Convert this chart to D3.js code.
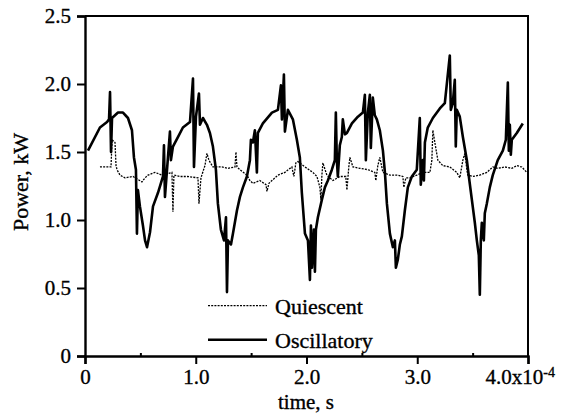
<!DOCTYPE html>
<html>
<head>
<meta charset="utf-8">
<script src="https://cdn.jsdelivr.net/npm/d3@7"></script>
<style>
  body { margin: 0; background: #fff; }
  text { font-family: "Liberation Serif", "DejaVu Serif", serif; fill: #000; stroke: #000; stroke-width: 0.35px; }
</style>
</head>
<body>
<svg id="chart" width="566" height="415"></svg>
<script>
// time in units of 1e-4 s, power in kW
let oscT = [0.027,0.135,0.199,0.217,0.226,0.235,0.244,0.298,0.343,0.388,0.424,0.442,0.460,0.469,0.478,0.496,0.523,0.542,0.560,0.587,0.614,0.659,0.704,0.713,0.722,0.749,0.767,0.776,0.794,0.839,0.884,0.948,0.975,0.984,1.002,1.029,1.038,1.065,1.101,1.128,1.155,1.182,1.200,1.227,1.255,1.273,1.282,1.291,1.318,1.336,1.372,1.399,1.426,1.462,1.489,1.498,1.516,1.534,1.552,1.561,1.606,1.688,1.742,1.769,1.778,1.796,1.805,1.832,1.877,1.913,1.940,1.958,1.986,2.013,2.031,2.040,2.049,2.067,2.076,2.085,2.103,2.139,2.166,2.193,2.229,2.256,2.265,2.274,2.283,2.301,2.319,2.328,2.347,2.365,2.410,2.464,2.509,2.527,2.536,2.554,2.572,2.581,2.599,2.617,2.635,2.662,2.690,2.708,2.726,2.753,2.780,2.798,2.807,2.825,2.843,2.861,2.888,2.915,2.951,2.996,3.023,3.032,3.051,3.060,3.069,3.095,3.141,3.204,3.249,3.294,3.303,3.321,3.339,3.348,3.357,3.384,3.412,3.448,3.466,3.493,3.520,3.538,3.556,3.565,3.574,3.583,3.601,3.610,3.628,3.655,3.682,3.727,3.773,3.800,3.818,3.827,3.836,3.845,3.854,3.899,3.953];
let oscP = [1.51,1.68,1.72,1.74,1.94,1.50,1.75,1.79,1.79,1.75,1.66,1.46,1.37,0.90,1.22,1.10,0.96,0.85,0.80,0.91,1.10,1.20,1.32,1.55,1.17,1.46,1.65,1.44,1.54,1.61,1.68,1.72,2.04,1.39,1.76,1.93,1.70,1.75,1.70,1.64,1.54,1.37,1.12,0.93,0.85,1.02,0.47,0.85,0.82,0.90,1.07,1.17,1.24,1.32,1.44,1.59,1.57,1.66,1.35,1.64,1.71,1.79,1.81,1.99,1.74,2.07,1.65,1.81,1.74,1.59,1.46,1.20,0.90,0.85,0.56,0.96,0.65,0.93,0.62,0.93,1.02,1.15,1.24,1.29,1.37,1.44,1.79,1.44,1.32,1.55,1.61,1.74,1.63,1.64,1.71,1.76,1.79,1.92,1.44,1.79,1.92,1.53,1.90,1.77,1.74,1.66,1.51,1.35,1.12,0.90,0.80,0.85,0.65,0.71,0.82,0.88,1.07,1.24,1.32,1.37,1.75,1.26,1.44,1.29,1.57,1.68,1.75,1.82,1.86,2.21,1.81,1.86,2.03,1.54,1.81,1.76,1.61,1.44,1.32,1.15,0.98,0.85,0.74,0.45,0.85,0.98,0.85,1.05,1.12,1.24,1.33,1.44,1.51,1.59,2.01,1.51,1.70,1.48,1.59,1.64,1.71];

let quiT = [0.135,0.235,0.244,0.271,0.280,0.289,0.316,0.361,0.433,0.514,0.542,0.569,0.632,0.695,0.785,0.794,0.803,0.857,0.921,1.020,1.029,1.047,1.083,1.101,1.119,1.155,1.236,1.291,1.354,1.363,1.372,1.399,1.462,1.489,1.516,1.579,1.634,1.643,1.661,1.688,1.742,1.805,1.868,1.886,1.904,1.922,1.986,2.058,2.094,2.121,2.130,2.139,2.148,2.184,2.238,2.301,2.355,2.365,2.383,2.392,2.419,2.482,2.554,2.617,2.626,2.644,2.662,2.690,2.753,2.825,2.870,2.879,2.897,2.933,2.996,3.051,3.114,3.132,3.141,3.159,3.186,3.231,3.294,3.357,3.384,3.412,3.430,3.448,3.457,3.502,3.565,3.628,3.682,3.727,3.791,3.854,3.899,3.944,3.989];
let quiP = [1.39,1.39,1.59,1.57,1.40,1.37,1.33,1.31,1.32,1.28,1.31,1.33,1.35,1.33,1.35,1.06,1.33,1.32,1.32,1.31,1.12,1.31,1.40,1.49,1.44,1.39,1.39,1.38,1.39,1.50,1.39,1.37,1.33,1.29,1.27,1.29,1.26,1.21,1.27,1.29,1.33,1.35,1.39,1.32,1.42,1.43,1.39,1.35,1.32,1.24,1.15,1.33,1.42,1.33,1.29,1.32,1.32,1.22,1.40,1.46,1.39,1.38,1.37,1.35,1.29,1.40,1.46,1.35,1.33,1.33,1.32,1.24,1.31,1.31,1.33,1.35,1.35,1.44,1.66,1.57,1.44,1.40,1.39,1.35,1.31,1.44,1.49,1.37,1.33,1.32,1.33,1.35,1.39,1.38,1.39,1.38,1.40,1.39,1.35];

let xTicks = [0, 1, 2, 3, 4];
let xMinorTicks = [0.5, 1.5, 2.5, 3.5];
let xTickLabels = ["0", "1.0", "2.0", "3.0", "4.0x10"];
let yTicks = [0, 0.5, 1.0, 1.5, 2.0, 2.5];
let yTickLabels = ["0", "0.5", "1.0", "1.5", "2.0", "2.5"];
let seriesNames = ["Quiescent", "Oscillatory"];

let svg = d3.select("#chart");

let x = d3.scaleLinear().domain([0, 4]).range([85, 528]);
let y = d3.scaleLinear().domain([0, 2.5]).range([356, 16]);

// frame (top and right)
svg.append("path")
  .attr("d", `M${x(0)},${y(2.5)}H${x(4)}V${y(0)}`)
  .attr("fill", "none")
  .attr("stroke", "#000")
  .attr("stroke-width", 2);

let quiData = quiT.map((t, i) => [t, quiP[i]]);
let oscData = oscT.map((t, i) => [t, oscP[i]]);
let line = d3.line().x(d => x(d[0])).y(d => y(d[1]));

// quiescent (dotted)
svg.append("path")
  .datum(quiData)
  .attr("d", line)
  .attr("fill", "none")
  .attr("stroke", "#000")
  .attr("stroke-width", 1.3)
  .attr("stroke-dasharray", "2,1.2");

// oscillatory (solid)
svg.append("path")
  .datum(oscData)
  .attr("d", line)
  .attr("fill", "none")
  .attr("stroke", "#000")
  .attr("stroke-width", 2.6)
  .attr("stroke-linejoin", "round");

// axes
let xAxis = svg.append("g")
  .attr("transform", `translate(0,${y(0)})`)
  .call(d3.axisBottom(x).tickValues(xTicks)
    .tickFormat((d, i) => xTickLabels[i]).tickSize(8).tickPadding(5));

svg.append("g")
  .attr("transform", `translate(0,${y(0)})`)
  .call(d3.axisBottom(x).tickValues(xMinorTicks).tickFormat("").tickSize(-3))
  .select(".domain").remove();

let yAxis = svg.append("g")
  .attr("transform", `translate(${x(0)},0)`)
  .call(d3.axisLeft(y).tickValues(yTicks)
    .tickFormat((d, i) => yTickLabels[i]).tickSize(8).tickPadding(6));

svg.selectAll(".domain").attr("stroke-width", 2.4);
svg.selectAll(".tick line").attr("stroke-width", 2);
svg.selectAll("g").attr("font-family", null).attr("font-size", null);
svg.selectAll(".tick text").style("font-size", "21px");

// exponent on last x label
xAxis.selectAll(".tick").filter(d => d === 4).select("text")
  .attr("text-anchor", "start")
  .attr("x", -43)
  .append("tspan")
  .attr("dy", "-0.5em")
  .style("font-size", "14px")
  .text("-4");

// axis titles
svg.append("text")
  .attr("x", 306)
  .attr("y", 409)
  .attr("text-anchor", "middle")
  .style("font-size", "21px")
  .text("time, s");

svg.append("text")
  .attr("transform", "translate(28,182) rotate(-90)")
  .attr("text-anchor", "middle")
  .style("font-size", "22px")
  .text("Power, kW");

// legend
let legendY = [0.37, 0.12];
seriesNames.forEach((name, i) => {
  svg.append("line")
    .attr("x1", 208).attr("x2", 267)
    .attr("y1", y(legendY[i])).attr("y2", y(legendY[i]))
    .attr("stroke", "#000")
    .attr("stroke-width", i === 0 ? 1.3 : 2.6)
    .attr("stroke-dasharray", i === 0 ? "2,1.2" : null);
  svg.append("text")
    .attr("x", 275)
    .attr("y", y(legendY[i]) + 8)
    .style("font-size", "22px")
    .text(name);
});
</script>
</body>
</html>
